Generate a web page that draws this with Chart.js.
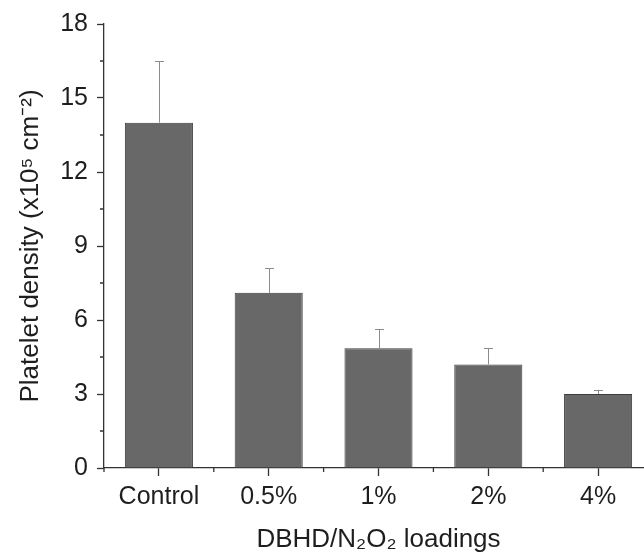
<!DOCTYPE html>
<html>
<head>
<meta charset="utf-8">
<script src="https://cdn.jsdelivr.net/npm/chart.js@4"></script>
<style>
  html, body { margin: 0; padding: 0; background: #fff; }
  #wrap { width: 644px; height: 558px; overflow: hidden; }
</style>
</head>
<body>
<div id="wrap"><canvas id="myChart" width="662" height="558"></canvas></div>
<script>
const categorias = ['Control', '0.5%', '1%', '2%', '4%'];
const densidad = [14.0, 7.1, 4.85, 4.2, 3.0];
const errores = [2.5, 1.0, 0.78, 0.65, 0.17];
const ticksY = [0, 3, 6, 9, 12, 15, 18];
const ticksMenoresY = [1.5, 4.5, 7.5, 10.5, 13.5, 16.5];

const fuente = "'Liberation Sans', Arial, sans-serif";
const colorTexto = '#1e1e1e';

// barras de error (solo hacia arriba) y marcas menores de los ejes
const extras = {
  id: 'extras',
  afterDatasetsDraw(chart) {
    const ctx = chart.ctx;
    const x = chart.scales.x;
    const y = chart.scales.y;
    ctx.save();
    ctx.strokeStyle = '#8c8c8c';
    ctx.lineWidth = 1;
    densidad.forEach((v, i) => {
      const px = Math.round(x.getPixelForValue(i)) + 0.5;
      const y0 = y.getPixelForValue(v);
      const y1 = y.getPixelForValue(v + errores[i]);
      ctx.beginPath();
      ctx.moveTo(px, y0);
      ctx.lineTo(px, y1);
      ctx.moveTo(px - 4.5, Math.round(y1) + 0.5);
      ctx.lineTo(px + 4.5, Math.round(y1) + 0.5);
      ctx.stroke();
    });
    ctx.restore();
  },
  afterDraw(chart) {
    const ctx = chart.ctx;
    const x = chart.scales.x;
    const y = chart.scales.y;
    const area = chart.chartArea;
    ctx.save();
    ctx.strokeStyle = '#333';
    ctx.lineWidth = 1.3;
    ctx.beginPath();
    ticksMenoresY.forEach(v => {
      const py = y.getPixelForValue(v);
      ctx.moveTo(area.left, py);
      ctx.lineTo(area.left - 4, py);
    });
    const paso = x.getPixelForValue(1) - x.getPixelForValue(0);
    for (let i = 0; i <= categorias.length; i++) {
      const px = x.getPixelForValue(i) - paso / 2;
      ctx.moveTo(px, area.bottom);
      ctx.lineTo(px, area.bottom + 4);
    }
    ctx.stroke();
    ctx.restore();
  }
};

const ctx = document.getElementById('myChart').getContext('2d');

const myChart = new Chart(ctx, {
  type: 'bar',
  data: {
    labels: categorias,
    datasets: [{
      label: 'Platelet density',
      data: densidad,
      backgroundColor: '#686868',
      borderColor: '#3c3c3c',
      borderWidth: 1,
      barPercentage: 0.62,
      categoryPercentage: 1
    }]
  },
  options: {
    responsive: false,
    animation: false,
    layout: { padding: { top: 22, right: 9, left: 0, bottom: 0 } },
    plugins: {
      legend: { display: false },
      tooltip: { enabled: false }
    },
    scales: {
      x: {
        afterFit: s => { s.height = 90; },
        grid: {
          offset: false,
          drawOnChartArea: false,
          drawTicks: true,
          tickLength: 8,
          tickColor: '#333',
          tickWidth: 1.3
        },
        border: { display: true, color: '#333', width: 1.3 },
        ticks: {
          color: colorTexto,
          padding: 6,
          maxRotation: 0,
          font: { family: fuente, size: 25 }
        },
        title: {
          display: true,
          text: 'DBHD/N₂O₂ loadings',
          color: colorTexto,
          font: { family: fuente, size: 26, lineHeight: 1.2 },
          padding: { top: 0, bottom: 3 }
        }
      },
      y: {
        min: 0,
        max: 18,
        afterFit: s => { s.width = 104; },
        afterBuildTicks: s => { s.ticks = ticksY.map(v => ({ value: v })); },
        grid: {
          drawOnChartArea: false,
          drawTicks: true,
          tickLength: 7,
          tickColor: '#333',
          tickWidth: 1.3
        },
        border: { display: true, color: '#333', width: 1.3 },
        ticks: {
          color: colorTexto,
          padding: 9,
          font: { family: fuente, size: 25 }
        },
        title: {
          display: true,
          text: 'Platelet density (x10⁵ cm⁻²)',
          color: colorTexto,
          font: { family: fuente, size: 26, lineHeight: 1.2 },
          padding: { top: 15, bottom: 0 }
        }
      }
    }
  },
  plugins: [extras]
});
</script>
</body>
</html>
